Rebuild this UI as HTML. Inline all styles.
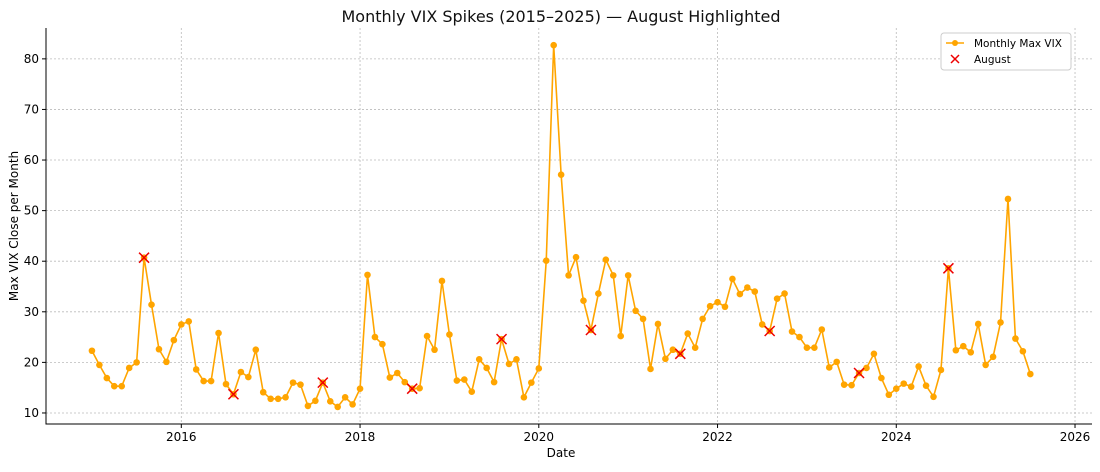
<!DOCTYPE html>
<html><head><meta charset="utf-8"><style>
body{margin:0;background:#fff;}
svg text{font-family:"DejaVu Sans","Liberation Sans",sans-serif;}
</style></head><body>
<svg id="chart" width="1100" height="467" xmlns="http://www.w3.org/2000/svg">
<rect width="1100" height="467" fill="#fff"/>
<text x="561" y="22" font-size="16" text-anchor="middle" fill="#111">Monthly VIX Spikes (2015–2025) — August Highlighted</text>
<g id="grid"></g><g id="axes"></g><g id="series"></g>
<text x="561" y="457" font-size="12" text-anchor="middle">Date</text>
<text transform="translate(18,226) rotate(-90)" font-size="12" text-anchor="middle">Max VIX Close per Month</text>
<g>
<rect x="941" y="33" width="130" height="37" rx="3" fill="#fff" stroke="#ccc"/>
<line x1="946" y1="43" x2="964" y2="43" stroke="#FFA500" stroke-width="1.5"/>
<circle cx="955" cy="43" r="3" fill="#FFA500"/>
<text x="974" y="47" font-size="10.5">Monthly Max VIX</text>
<path d="M951,55 l8,8 M959,55 l-8,8" stroke="#e00" stroke-width="1.5"/>
<text x="974" y="63" font-size="10.5">August</text>
</g>
</svg>
<script>
const startYear = 2015;
const values = [
22.3,19.5,16.9,15.3,15.3,18.9,20,40.7,31.4,22.6,20.1,24.4,
27.5,28.1,18.6,16.3,16.3,25.8,15.7,13.7,18.1,17.1,22.5,14.1,
12.8,12.8,13.1,16,15.6,11.4,12.4,16.0,12.3,11.2,13.1,11.7,
14.8,37.3,25,23.6,17,17.9,16.1,14.8,14.9,25.2,22.5,36.1,
25.5,16.4,16.6,14.2,20.6,18.9,16.1,24.6,19.7,20.6,13.1,16.0,
18.8,40.1,82.7,57.1,37.2,40.8,32.2,26.4,33.6,40.3,37.2,25.2,
37.2,30.2,28.6,18.7,27.6,20.7,22.5,21.7,25.7,22.9,28.6,31.1,
31.9,31.0,36.5,33.5,34.8,34.0,27.5,26.2,32.6,33.6,26.1,25.0,
22.9,22.9,26.5,19.0,20.1,15.6,15.5,17.9,18.9,21.7,16.9,13.6,
14.8,15.8,15.2,19.2,15.4,13.2,18.5,38.6,22.4,23.2,22.0,27.6,
19.5,21.1,27.9,52.3,24.7,22.2,17.7];
const xTicks = [2016,2018,2020,2022,2024,2026];
const yTicks = [10,20,30,40,50,60,70,80];
const L=46,R=1092,T=28,B=424;
const x0=2014.486,x1=2026.19,y0=7.82,y1=86.1;
const X=t=>L+(t-x0)/(x1-x0)*(R-L);
const Y=v=>B-(v-y0)/(y1-y0)*(B-T);
const NS="http://www.w3.org/2000/svg";
function mk(tag,attrs,parent){const e=document.createElementNS(NS,tag);for(const k in attrs)e.setAttribute(k,attrs[k]);document.getElementById(parent).appendChild(e);return e;}
xTicks.forEach(t=>{
 const g=mk('line',{x1:X(t),x2:X(t),y1:T,y2:B,stroke:'#bbb','stroke-dasharray':'2,2','stroke-width':0.8},'grid');
 
 
 mk('line',{x1:X(t),x2:X(t),y1:B,y2:B+4,stroke:'#000'},'axes');
 const tx=mk('text',{x:X(t),y:B+17,'font-size':12,'text-anchor':'middle'},'axes');tx.textContent=t;
 
 
});
yTicks.forEach(v=>{
 const g=mk('line',{x1:L,x2:R,y1:Y(v),y2:Y(v),stroke:'#bbb','stroke-dasharray':'2,2','stroke-width':0.8},'grid');
 
 
 mk('line',{x1:L-4,x2:L,y1:Y(v),y2:Y(v),stroke:'#000'},'axes');
 const tx=mk('text',{x:L-7,y:Y(v)+4,'font-size':12,'text-anchor':'end'},'axes');tx.textContent=v;
 
 
});
const ax=mk('path',{d:`M${L},${T} V${B} H${R}`,stroke:'#000',fill:'none','stroke-width':1},'axes');


const pts=values.map((v,i)=>[X(startYear+i/12),Y(v)]);
const line=mk('polyline',{points:pts.map(p=>p.join(',')).join(' '),fill:'none',stroke:'#FFA500','stroke-width':1.6},'series');


pts.forEach((p,i)=>{
 const c=mk('circle',{cx:p[0],cy:p[1],r:3.3,fill:'#FFA500'},'series');
 
 
});
pts.forEach((p,i)=>{
 if(i%12===7){
  const m=mk('path',{d:`M${p[0]-5},${p[1]-5} l10,10 M${p[0]+5},${p[1]-5} l-10,10`,stroke:'#e00','stroke-width':1.5},'series');
  
  
 }
});
</script>
</body></html>
